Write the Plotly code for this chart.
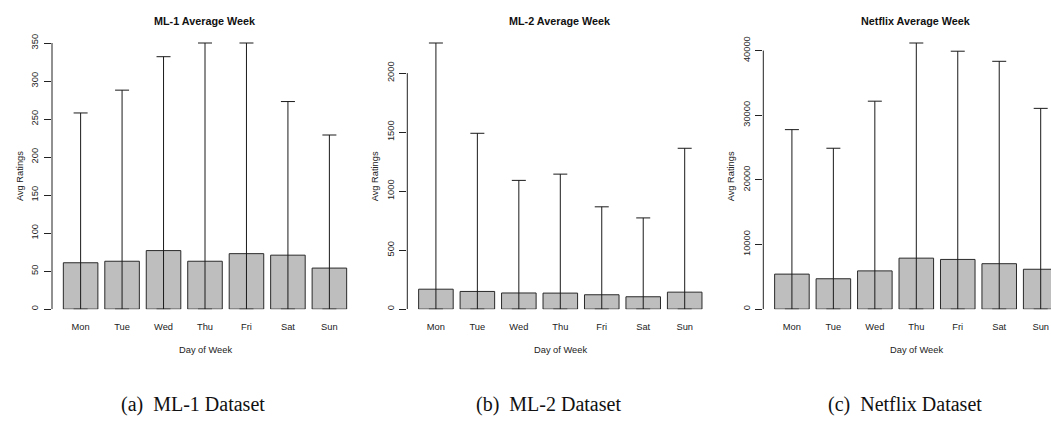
import plotly.graph_objects as go

# ---------------- data ----------------
days = ["Mon", "Tue", "Wed", "Thu", "Fri", "Sat", "Sun"]

ml1_avg = [61, 63, 77, 63, 73, 71, 54]
ml1_err_top = [258, 288, 332, 350, 350, 273, 229]

ml2_avg = [169, 150, 137, 136, 122, 105, 144]
ml2_err_top = [2255, 1490, 1091, 1144, 867, 773, 1363]

nf_avg = [5420, 4700, 5920, 7890, 7690, 7030, 6170]
nf_err_top = [27770, 24890, 32170, 41170, 39900, 38340, 31060]

titles = ["ML-1 Average Week", "ML-2 Average Week", "Netflix Average Week"]
captions = ["(a)&nbsp;&nbsp;ML-1 Dataset", "(b)&nbsp;&nbsp;ML-2 Dataset", "(c)&nbsp;&nbsp;Netflix Dataset"]
ytick_sets = [
    [0, 50, 100, 150, 200, 250, 300, 350],
    [0, 500, 1000, 1500, 2000],
    [0, 10000, 20000, 30000, 40000],
]
x_label = "Day of Week"
y_label = "Avg Ratings"

# ---------------- layout geometry (pixels) ----------------
W, H = 1051, 421
plot_left_px = [52.0, 407.3, 763.3]
plot_w_px = 306.0
plot_bottom_px = 308.0
plot_top_px = 36.7
pad_px = 2.0
x_range_full = [-0.69, 6.69]

FONT = "Liberation Sans, Arial, sans-serif"
SERIF = "Liberation Serif, Times New Roman, serif"

fig = go.Figure()
series = [(ml1_avg, ml1_err_top), (ml2_avg, ml2_err_top), (nf_avg, nf_err_top)]

annotations = []
shapes = []
for i, (avg, tops) in enumerate(series):
    k = "" if i == 0 else str(i + 1)
    xa, ya = "x" + k, "y" + k
    fig.add_trace(go.Bar(
        x=days, y=avg, xaxis=xa, yaxis=ya,
        marker=dict(color="#BEBEBE", line=dict(color="#2a2a2a", width=1)),
        error_y=dict(type="data", symmetric=False,
                     array=[t - a for t, a in zip(tops, avg)],
                     arrayminus=avg,
                     color="#1a1a1a", thickness=1, width=7),
        showlegend=False, hoverinfo="skip",
    ))
    left = plot_left_px[i]
    right = left + plot_w_px
    px_per_cat = plot_w_px / (x_range_full[1] - x_range_full[0])
    if right > W:
        xr = [x_range_full[0], x_range_full[0] + (W - left) / px_per_cat]
        right = W
    else:
        xr = list(x_range_full)
    ymax = max(tops)
    span_px = plot_bottom_px - plot_top_px
    ytop = ymax * (1 + pad_px / span_px)
    dom_y = [(H - plot_bottom_px) / H, (H - plot_top_px + pad_px) / H]
    dom_x = [left / W, right / W]

    fig.layout["xaxis" + k] = dict(
        domain=dom_x, range=xr, anchor=ya, type="category",
        showline=False, showgrid=False, zeroline=False, ticks="",
        tickfont=dict(family=FONT, size=9.3, color="#222"),
        ticklabelstandoff=11, fixedrange=True,
    )
    fig.layout["yaxis" + k] = dict(
        domain=dom_y, range=[0, ytop], anchor=xa,
        showline=False, showgrid=False, zeroline=False,
        ticks="outside", ticklen=7, tickwidth=1, tickcolor="#222",
        tickvals=ytick_sets[i], ticktext=[str(v) for v in ytick_sets[i]],
        tickangle=-90, tickfont=dict(family=FONT, size=9.3, color="#222"),
        ticklabelstandoff=2, fixedrange=True,
    )
    # R-style axis line spanning first to last tick
    shapes.append(dict(type="line", xref=xa + " domain", yref=ya,
                       x0=0, x1=0, y0=ytick_sets[i][0], y1=ytick_sets[i][-1],
                       line=dict(color="#222", width=1)))
    cx_full = left + plot_w_px / 2.0
    # title
    annotations.append(dict(text="<b>" + titles[i] + "</b>", x=cx_full / W, y=1 - 14.3 / H,
                            xref="paper", yref="paper", showarrow=False,
                            xanchor="center", yanchor="middle",
                            font=dict(family=FONT, size=10.8, color="#111")))
    # x label
    annotations.append(dict(text=x_label, x=cx_full / W, y=1 - 349.3 / H,
                            xref="paper", yref="paper", showarrow=False,
                            xanchor="center", yanchor="middle",
                            font=dict(family=FONT, size=9.3, color="#222")))
    # y label
    annotations.append(dict(text=y_label, x=(left - 32) / W,
                            y=1 - ((plot_bottom_px + plot_top_px) / 2) / H,
                            xref="paper", yref="paper", showarrow=False, textangle=-90,
                            xanchor="center", yanchor="middle",
                            font=dict(family=FONT, size=9.3, color="#222")))

caption_x = [192.5, 548.0, 905.0]
for i, c in enumerate(captions):
    annotations.append(dict(text=c, x=caption_x[i] / W, y=1 - 405.5 / H,
                            xref="paper", yref="paper", showarrow=False,
                            xanchor="center", yanchor="middle",
                            font=dict(family=SERIF, size=20, color="#111")))

fig.update_layout(
    width=W, height=H, margin=dict(l=0, r=0, t=0, b=0),
    paper_bgcolor="white", plot_bgcolor="white",
    bargap=0.1667, annotations=annotations, shapes=shapes,
)

fig.write_html("out.html", config={"displayModeBar": False})
